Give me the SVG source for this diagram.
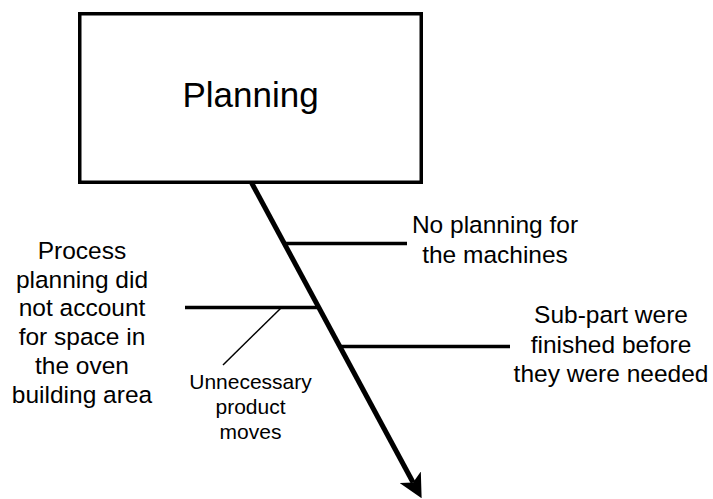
<svg xmlns="http://www.w3.org/2000/svg" width="713" height="499" viewBox="0 0 713 499">
  <style>
    text { font-family: "Liberation Sans", Arial, Helvetica, sans-serif; fill: #000; text-anchor: middle; }
    .title { font-size: 35px; }
    .cause { font-size: 24.5px; }
    .sub { font-size: 21px; }
    .box { fill: #fff; stroke: #000; stroke-width: 3.5; }
    .spine { stroke: #000; stroke-width: 5; fill: none; }
    .bone { stroke: #000; stroke-width: 3.3; fill: none; }
    .twig { stroke: #000; stroke-width: 1.5; fill: none; }
  </style>
  <defs>
    <marker id="head" viewBox="0 0 24 24" refX="6" refY="12" markerWidth="24" markerHeight="24" markerUnits="userSpaceOnUse" orient="auto">
      <path d="M0,0 L24,12 L0,24 L6,12 Z" fill="#000"/>
    </marker>
  </defs>

  <rect width="713" height="499" fill="#fff"/>

  <g id="effect">
    <rect class="box" x="79.75" y="13.75" width="341.5" height="168.5"/>
    <text class="title" x="250.5" y="107">Planning</text>
  </g>

  <g id="connectors">
    <line class="spine" x1="251.7" y1="183" x2="413.1" y2="482.5" marker-end="url(#head)"/>
    <line class="bone" x1="283" y1="243.5" x2="407" y2="243.5"/>
    <line class="bone" x1="185" y1="307.5" x2="318" y2="307.5"/>
    <line class="bone" x1="339" y1="346.5" x2="510" y2="346.5"/>
    <line class="twig" x1="281" y1="308" x2="223" y2="365"/>
  </g>

  <g id="cause-machines">
    <text class="cause" x="495" y="233">No planning for</text>
    <text class="cause" x="495" y="263">the machines</text>
  </g>

  <g id="cause-space">
    <text class="cause" x="82" y="259">Process</text>
    <text class="cause" x="82" y="287.7">planning did</text>
    <text class="cause" x="82" y="316.4">not account</text>
    <text class="cause" x="82" y="345.1">for space in</text>
    <text class="cause" x="82" y="373.8">the oven</text>
    <text class="cause" x="82" y="402.5">building area</text>
  </g>

  <g id="cause-moves">
    <text class="sub" x="250.5" y="388.5">Unnecessary</text>
    <text class="sub" x="250.5" y="413.5">product</text>
    <text class="sub" x="250.5" y="438.5">moves</text>
  </g>

  <g id="cause-subparts">
    <text class="cause" x="611" y="323">Sub-part were</text>
    <text class="cause" x="611" y="352.5">finished before</text>
    <text class="cause" x="611" y="382">they were needed</text>
  </g>
</svg>
